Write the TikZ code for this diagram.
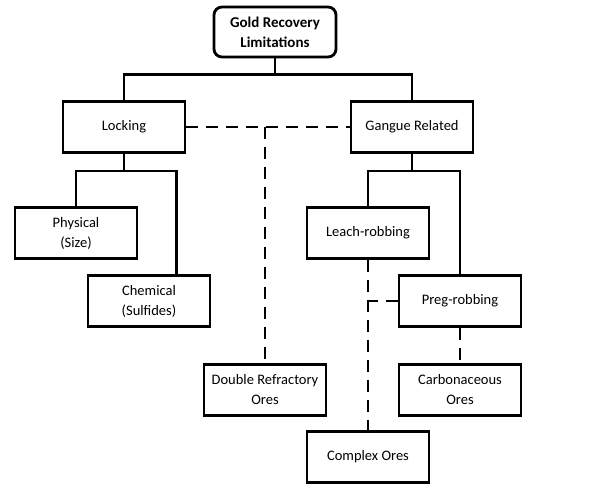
\documentclass[tikz,border=0pt]{standalone}
\usepackage{fontspec}
\setmainfont{Carlito}
\usepackage{tikz}
\usetikzlibrary{positioning}
\usetikzlibrary{calc}
\tikzset{>=stealth}
\tikzset{
  box/.style={draw, line width=2.8pt, minimum width=122pt, minimum height=51pt,
              align=center, font=\fontsize{14.5}{20}\selectfont, inner sep=2pt},
  link/.style={line width=2.8pt},
  dlink/.style={line width=2.8pt, dash pattern=on 12pt off 8pt}
}
\begin{document}
\begin{tikzpicture}[x=1pt,y=-1pt]
        \useasboundingbox (0,0) rectangle (600,483);
        % top level
        \node[box, rounded corners=8pt, minimum height=50pt, font=\fontsize{15}{20}\selectfont\bfseries] (gold) at (275,32) {Gold Recovery\\Limitations};
        \node[box] (lock) at (124,127) {Locking};
        \node[box] (gang) at (412,127) {Gangue Related};
        % locking branch
        \node[box] (phys) at (76,233) {Physical\\(Size)};
        \node[box] (chem) at (149,301) {Chemical\\(Sulfides)};
        % gangue branch
        \node[box] (leach) at (368,233) {Leach-robbing};
        \node[box] (preg) at (460,301) {Preg-robbing};
        \node[box] (carb) at (460,390) {Carbonaceous\\Ores};
        \node[box] (dro) at (265,390) {Double Refractory\\Ores};
        \node[box] (cplx) at (368,457) {Complex Ores};
        \path[link]
          (gold.south) edge[-] ++(0,16)
          ($(gold.south)+(0,16)$) edge[-, to path={-| (\tikztotarget)}] (lock.north)
          ($(gold.south)+(0,16)$) edge[-, to path={-| (\tikztotarget)}] (gang.north)
          (lock.south) edge ++(0,17)
          ($(lock.south)+(0,17)$) edge[to path={-| (\tikztotarget)}] (phys.north)
          ($(lock.south)+(0,17)$) edge[to path={-| (\tikztotarget)}] ([xshift=-35pt]chem.north east)
          (gang.south) edge ++(0,17)
          ($(gang.south)+(0,17)$) edge[to path={-| (\tikztotarget)}] (leach.north)
          ($(gang.south)+(0,17)$) edge[to path={-| (\tikztotarget)}] (preg.north);
        \path[dlink]
          (lock.east) edge (gang.west)
          (dro.north |- lock.east) edge (dro.north)
          (leach.south) edge (cplx.north)
          (preg.west) edge (leach.south |- preg.west)
          (preg.south) edge (carb.north);
    \end{tikzpicture}
\end{document}
